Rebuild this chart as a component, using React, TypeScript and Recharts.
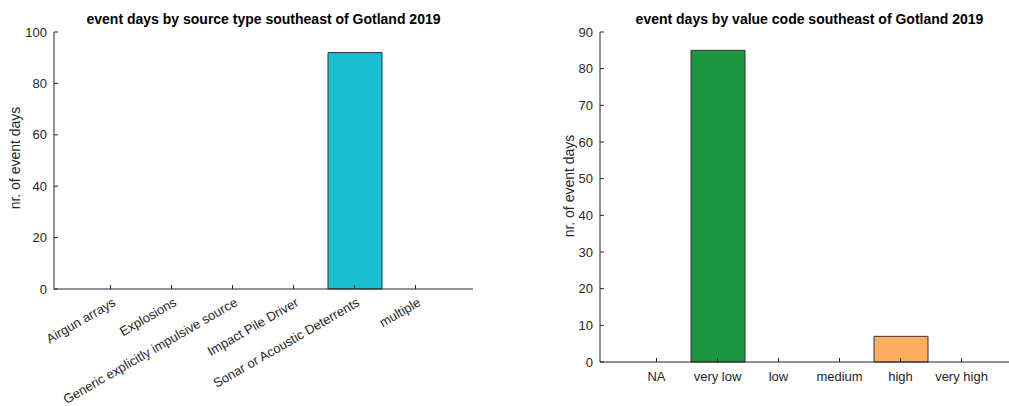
import React from 'react';
import { BarChart, Bar, XAxis, YAxis, Cell } from 'recharts';

const sourceTypes = [
  'Airgun arrays',
  'Explosions',
  'Generic explicitly impulsive source',
  'Impact Pile Driver',
  'Sonar or Acoustic Deterrents',
  'multiple',
];
const sourceDays = [0, 0, 0, 0, 92, 0];
const sourceTicks = [0, 20, 40, 60, 80, 100];

const valueCodes = ['NA', 'very low', 'low', 'medium', 'high', 'very high'];
const valueDays = [0, 85, 0, 0, 7, 0];
const valueColors = ['#999999', '#1B9641', '#A6D96A', '#FFFFBF', '#FDAE61', '#D7191C'];
const valueTicks = [0, 10, 20, 30, 40, 50, 60, 70, 80, 90];

const sourceData = sourceTypes.map((name, i) => ({ name, value: sourceDays[i] }));
const valueData = valueCodes.map((name, i) => ({ name, value: valueDays[i], color: valueColors[i] }));

const INK = '#262626';
const FONT = '"Liberation Sans", Arial, Helvetica, sans-serif';
const TL = 4;

const BottomTickRot = (props: any) => {
  const { x, y, payload } = props;
  const ax = x + 6;
  const ay = y + 16;
  return (
    <g>
      <line x1={x} y1={y} x2={x} y2={y - TL} stroke={INK} strokeWidth={1} />
      <text
        x={ax}
        y={ay}
        textAnchor="end"
        fill={INK}
        fontSize={13}
        fontFamily={FONT}
        transform={`rotate(-30 ${ax} ${ay})`}
      >
        {payload.value}
      </text>
    </g>
  );
};

const BottomTickFlat = (props: any) => {
  const { x, y, payload } = props;
  return (
    <g>
      <line x1={x} y1={y} x2={x} y2={y - TL} stroke={INK} strokeWidth={1} />
      <text x={x} y={y + 19} textAnchor="middle" fill={INK} fontSize={13} fontFamily={FONT}>
        {payload.value}
      </text>
    </g>
  );
};

const TopTick = (props: any) => {
  const { x, y } = props;
  return <line x1={x} y1={y} x2={x} y2={y + TL} stroke={INK} strokeWidth={1} />;
};

const LeftTick = (props: any) => {
  const { x, y, payload } = props;
  return (
    <g>
      <line x1={x} y1={y} x2={x + TL} y2={y} stroke={INK} strokeWidth={1} />
      <text x={x - 7} y={y + 4.5} textAnchor="end" fill={INK} fontSize={13} fontFamily={FONT}>
        {payload.value}
      </text>
    </g>
  );
};

const RightTick = (props: any) => {
  const { x, y } = props;
  return <line x1={x} y1={y} x2={x - TL} y2={y} stroke={INK} strokeWidth={1} />;
};

const titleStyle = (cx: number): React.CSSProperties => ({
  position: 'absolute',
  left: cx,
  top: 11,
  transform: 'translateX(-50%)',
  whiteSpace: 'nowrap',
  fontFamily: FONT,
  fontWeight: 'bold',
  fontSize: 14,
  lineHeight: '16px',
  color: '#000',
});

const ylabelStyle = (cx: number, cy: number): React.CSSProperties => ({
  position: 'absolute',
  left: cx,
  top: cy,
  transform: 'translate(-50%, -50%) rotate(-90deg)',
  whiteSpace: 'nowrap',
  fontFamily: FONT,
  fontSize: 14,
  lineHeight: '14px',
  color: INK,
});

const axisLine = { stroke: INK, strokeWidth: 1 };

export default function App() {
  return (
    <div
      style={{
        position: 'fixed',
        left: 0,
        top: 0,
        width: 1009,
        height: 406,
        overflow: 'hidden',
        background: '#fff',
      }}
    >
      <div style={{ position: 'absolute', left: 0, top: 0 }}>
        <BarChart width={500} height={406} data={sourceData} margin={{ top: 32, right: 27, bottom: 0, left: 0 }}>
          <XAxis
            dataKey="name"
            height={117}
            interval={0}
            padding={{ left: 26, right: 27 }}
            tickSize={0}
            tickMargin={0}
            tickLine={false}
            axisLine={axisLine}
            tick={<BottomTickRot />}
          />
          <XAxis
            xAxisId="top"
            orientation="top"
            dataKey="name"
            height={0}
            interval={0}
            padding={{ left: 26, right: 27 }}
            tickSize={0}
            tickMargin={0}
            tickLine={false}
            axisLine={axisLine}
            tick={<TopTick />}
          />
          <YAxis
            width={54}
            domain={[0, 100]}
            ticks={sourceTicks}
            interval={0}
            tickSize={0}
            tickMargin={0}
            tickLine={false}
            axisLine={axisLine}
            tick={<LeftTick />}
          />
          <YAxis
            yAxisId="right"
            orientation="right"
            width={0}
            domain={[0, 100]}
            ticks={sourceTicks}
            interval={0}
            tickSize={0}
            tickMargin={0}
            tickLine={false}
            axisLine={axisLine}
            tick={<RightTick />}
          />
          <Bar dataKey="value" barSize={54} fill="#17BECF" stroke="#333333" strokeWidth={1} isAnimationActive={false} />
        </BarChart>
        <div style={titleStyle(263.5)}>event days by source type southeast of Gotland 2019</div>
        <div style={ylabelStyle(15, 158)}>nr. of event days</div>
      </div>

      <div style={{ position: 'absolute', left: 500, top: 0 }}>
        <BarChart width={540} height={406} data={valueData} margin={{ top: 32, right: 21, bottom: 0, left: 0 }}>
          <XAxis
            dataKey="name"
            height={44}
            interval={0}
            padding={{ left: 26, right: 27 }}
            tickSize={0}
            tickMargin={0}
            tickLine={false}
            axisLine={axisLine}
            tick={<BottomTickFlat />}
          />
          <XAxis
            xAxisId="top"
            orientation="top"
            dataKey="name"
            height={0}
            interval={0}
            padding={{ left: 26, right: 27 }}
            tickSize={0}
            tickMargin={0}
            tickLine={false}
            axisLine={axisLine}
            tick={<TopTick />}
          />
          <YAxis
            width={100}
            domain={[0, 90]}
            ticks={valueTicks}
            interval={0}
            tickSize={0}
            tickMargin={0}
            tickLine={false}
            axisLine={axisLine}
            tick={<LeftTick />}
          />
          <YAxis
            yAxisId="right"
            orientation="right"
            width={0}
            domain={[0, 90]}
            ticks={valueTicks}
            interval={0}
            tickSize={0}
            tickMargin={0}
            tickLine={false}
            axisLine={axisLine}
            tick={<RightTick />}
          />
          <Bar dataKey="value" barSize={54} stroke="#333333" strokeWidth={1} isAnimationActive={false}>
            {valueData.map((d, i) => (
              <Cell key={i} fill={d.color} />
            ))}
          </Bar>
        </BarChart>
        <div style={titleStyle(309.5)}>event days by value code southeast of Gotland 2019</div>
        <div style={ylabelStyle(69, 186)}>nr. of event days</div>
      </div>
    </div>
  );
}
